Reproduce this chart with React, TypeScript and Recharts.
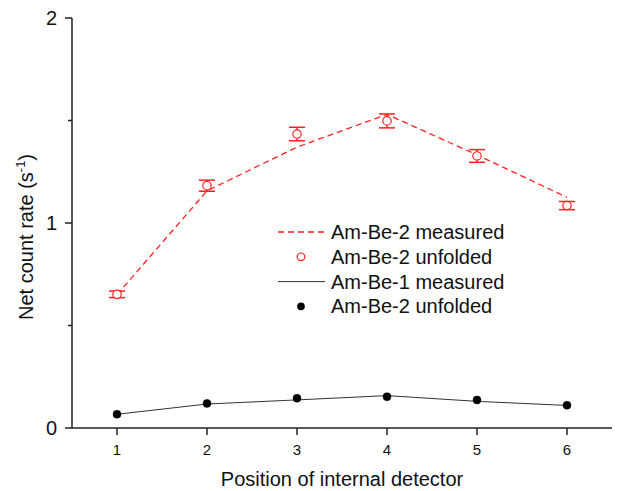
import React from "react";
import {
  ComposedChart,
  Line,
  XAxis,
  YAxis,
  ErrorBar,
  Legend,
} from "recharts";

const POSITIONS = [1, 2, 3, 4, 5, 6];
const AMBE2_MEASURED = [0.65, 1.157, 1.37, 1.53, 1.332, 1.125];
const AMBE2_UNFOLDED = [0.652, 1.182, 1.434, 1.498, 1.327, 1.085];
const AMBE2_ERROR = [0.016, 0.027, 0.033, 0.034, 0.031, 0.02];
const AMBE1_MEASURED = [0.067, 0.117, 0.137, 0.158, 0.13, 0.11];
const AMBE1_UNFOLDED = [0.067, 0.12, 0.145, 0.153, 0.137, 0.111];

const X_TICKS = [1, 2, 3, 4, 5, 6];
const Y_TICKS = [0, 0.5, 1, 1.5, 2];

const LEGEND_ITEMS = [
  { label: "Am-Be-2 measured", kind: "dash" },
  { label: "Am-Be-2 unfolded", kind: "open" },
  { label: "Am-Be-1 measured", kind: "line" },
  { label: "Am-Be-2 unfolded", kind: "dot" },
];

const RED = "#ff2020";
const FONT = "'Liberation Sans', Arial, sans-serif";

const data = POSITIONS.map((p, i) => ({
  pos: p,
  am2Measured: AMBE2_MEASURED[i],
  am2Unfolded: AMBE2_UNFOLDED[i],
  am2Err: AMBE2_ERROR[i],
  am1Measured: AMBE1_MEASURED[i],
  am1Unfolded: AMBE1_UNFOLDED[i],
}));

function XTick(props: any) {
  const { x, y, payload } = props;
  return (
    <g>
      <line x1={x} x2={x} y1={y} y2={y + 7} stroke="#222" strokeWidth={1.5} />
      <text x={x} y={y + 27} textAnchor="middle" fontSize={15} fill="#111" fontFamily={FONT}>
        {payload.value}
      </text>
    </g>
  );
}

function YTick(props: any) {
  const { x, y, payload } = props;
  const major = Number.isInteger(payload.value);
  return (
    <g>
      <line x1={x - (major ? 7 : 4)} x2={x} y1={y} y2={y} stroke="#222" strokeWidth={1.5} />
      {major && (
        <text x={x - 15} y={y + 7} textAnchor="end" fontSize={20} fill="#111" fontFamily={FONT}>
          {payload.value}
        </text>
      )}
    </g>
  );
}

function LegendBox() {
  return (
    <svg width={270} height={100} style={{ display: "block" }}>
      {LEGEND_ITEMS.map((it, i) => {
        const cy = 12 + i * 24.8;
        let mark = null;
        if (it.kind === "dash")
          mark = <line x1={8} x2={55} y1={cy} y2={cy} stroke={RED} strokeWidth={1.3} strokeDasharray="6 4" />;
        else if (it.kind === "line")
          mark = <line x1={8} x2={55} y1={cy} y2={cy} stroke="#333" strokeWidth={1} />;
        else if (it.kind === "open")
          mark = <circle cx={31} cy={cy} r={3.8} fill="#fff" stroke={RED} strokeWidth={1.2} />;
        else mark = <circle cx={31} cy={cy} r={3.8} fill="#000" />;
        return (
          <g key={i}>
            {mark}
            <text x={61} y={cy + 7} fontSize={20} fill="#111" fontFamily={FONT}>
              {it.label}
            </text>
          </g>
        );
      })}
    </svg>
  );
}

export default function App() {
  return (
    <div style={{ position: "absolute", left: 0, top: 0, width: 630, height: 491, background: "#fff" }}>
      <ComposedChart
        width={630}
        height={491}
        data={data}
        margin={{ top: 18, right: 18, bottom: 0, left: 12 }}
      >
        <XAxis
          dataKey="pos"
          type="number"
          domain={[0.5, 6.5]}
          ticks={X_TICKS}
          height={63}
          axisLine={{ stroke: "#222", strokeWidth: 1.5 }}
          tickLine={false}
          tickSize={0}
          tickMargin={0}
          tick={<XTick />}
          label={{
            content: (p: any) => (
              <text
                x={p.viewBox.x + p.viewBox.width / 2}
                y={p.viewBox.y + 58}
                textAnchor="middle"
                fontSize={20}
                fill="#111"
                fontFamily={FONT}
              >
                Position of internal detector
              </text>
            ),
          }}
        />
        <XAxis
          xAxisId="top"
          orientation="top"
          dataKey="pos"
          type="number"
          domain={[0.5, 6.5]}
          height={0}
          tick={false}
          tickLine={false}
          axisLine={{ stroke: "#222", strokeWidth: 1.5 }}
        />
        <YAxis
          type="number"
          domain={[0, 2]}
          ticks={Y_TICKS}
          width={60}
          axisLine={{ stroke: "#222", strokeWidth: 1.5 }}
          tickLine={false}
          tickSize={0}
          tickMargin={0}
          tick={<YTick />}
          label={{
            content: () => (
              <text
                x={0}
                y={0}
                transform="translate(33,237) rotate(-90)"
                textAnchor="middle"
                fontSize={20}
                fill="#111"
                fontFamily={FONT}
              >
                Net count rate (s
                <tspan dy={-8} fontSize={13}>-1</tspan>
                <tspan dy={8}>)</tspan>
              </text>
            ),
          }}
        />
        <YAxis
          yAxisId="right"
          orientation="right"
          domain={[0, 2]}
          width={0}
          tick={false}
          tickLine={false}
          axisLine={{ stroke: "#222", strokeWidth: 1.5 }}
        />
        <Legend
          layout="vertical"
          align="center"
          verticalAlign="middle"
          content={() => <LegendBox />}
          wrapperStyle={{ left: 270, top: 220, width: 270, height: 100 }}
        />
        <Line
          dataKey="am1Measured"
          stroke="#333"
          strokeWidth={1}
          dot={false}
          activeDot={false}
          isAnimationActive={false}
        />
        <Line
          dataKey="am1Unfolded"
          stroke="none"
          dot={{ r: 4, fill: "#000", stroke: "#000", strokeWidth: 0.5 }}
          activeDot={false}
          isAnimationActive={false}
        />
        <Line
          dataKey="am2Measured"
          stroke={RED}
          strokeWidth={1.3}
          strokeDasharray="6 4"
          dot={false}
          activeDot={false}
          isAnimationActive={false}
        />
        <Line
          dataKey="am2Unfolded"
          stroke="none"
          dot={{ r: 4.2, fill: "#fff", stroke: RED, strokeWidth: 1.2 }}
          activeDot={false}
          isAnimationActive={false}
        >
          <ErrorBar dataKey="am2Err" direction="y" width={8} stroke={RED} strokeWidth={1.5} />
        </Line>
      </ComposedChart>
    </div>
  );
}
